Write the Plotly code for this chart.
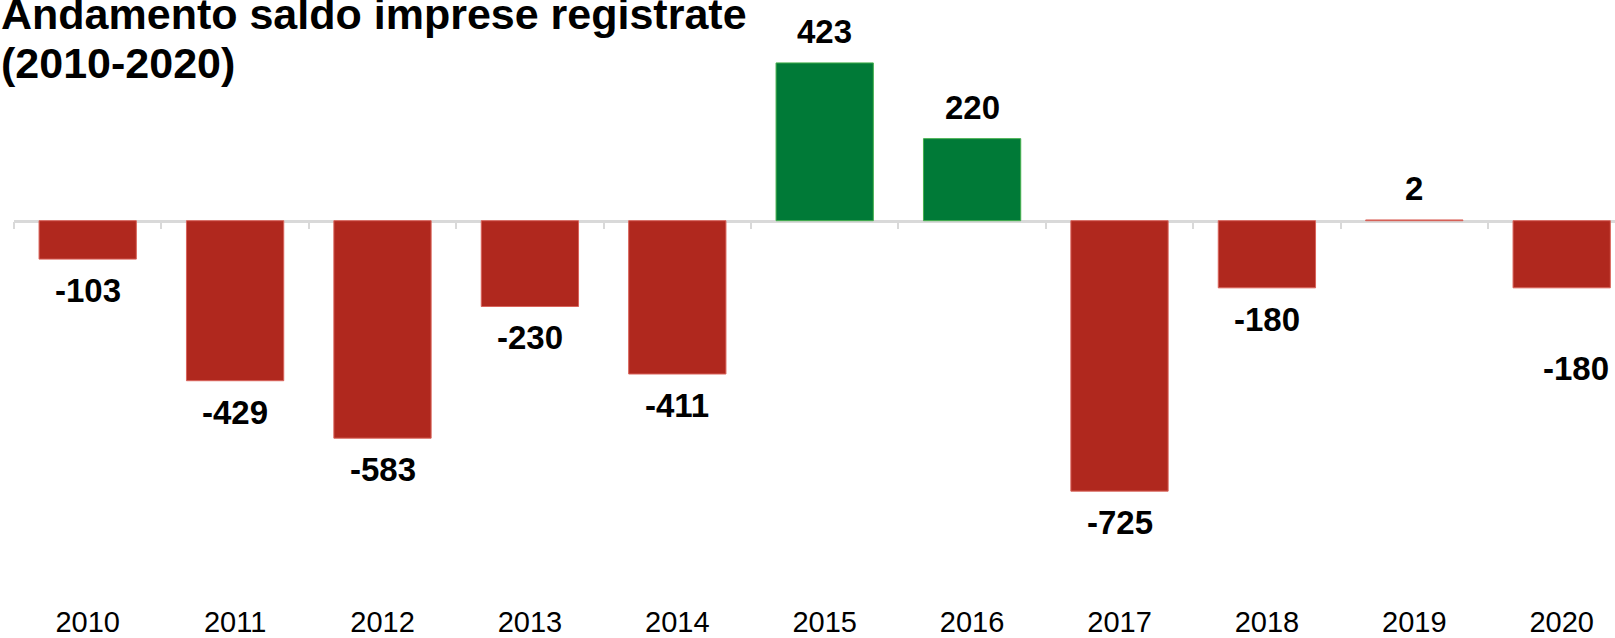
import plotly.graph_objects as go

# ---- data ----
years = ["2010", "2011", "2012", "2013", "2014", "2015", "2016", "2017", "2018", "2019", "2020"]
saldo = [-103, -429, -583, -230, -411, 423, 220, -725, -180, 2, -180]
title_line1 = "Andamento saldo imprese registrate"
title_line2 = "(2010-2020)"

# ---- style ----
RED = "#B0281E"
RED_EDGE = "#D9635A"
GREEN = "#007A37"
GREEN_EDGE = "#45B04E"
AXIS_GREY = "#D9D9D9"
FONT = "Liberation Sans, Arial, sans-serif"
green_years = {"2015", "2016"}
fill_colors = [GREEN if y in green_years else RED for y in years]
edge_colors = [GREEN_EDGE if y in green_years else RED_EDGE for y in years]
# manual nudge of a label as in the source (dx, dy pixels)
label_nudge = {"2020": (14, -49)}

W, H = 1615, 638
ML, MR, MT, MB = 14, 0, 0, 36
plot_h = H - MT - MB
zero_px = 220.7          # distance of the zero line from the plot top
px_per_unit = 0.373
cat_px = 147.4

y_top = zero_px / px_per_unit
y_bot = -(plot_h - zero_px) / px_per_unit
x_rng = [-0.5, -0.5 + (W - ML - MR) / cat_px]
zero_pos = (plot_h - zero_px) / plot_h

fig = go.Figure()
fig.add_trace(go.Bar(
    x=years, y=saldo,
    marker=dict(color=fill_colors, line=dict(color=edge_colors, width=1)),
    hoverinfo="skip", showlegend=False,
))
# invisible helper trace so the zero-line axis knows the categories
fig.add_trace(go.Scatter(
    x=years, y=[0] * len(years), xaxis="x2", mode="markers",
    marker=dict(opacity=0), hoverinfo="skip", showlegend=False,
))

annotations = []
for i, (yr, v) in enumerate(zip(years, saldo)):
    dx, dy = label_nudge.get(yr, (0, 0))
    annotations.append(dict(
        x=i, y=v, xref="x", yref="y", text=f"<b>{v}</b>", showarrow=False,
        yanchor="bottom" if v >= 0 else "top",
        yshift=(11 if v >= 0 else -11) + dy, xshift=dx,
        font=dict(family=FONT, size=33, color="black"),
    ))

annotations.append(dict(
    x=0, y=1, xref="paper", yref="paper", xanchor="left", yanchor="top",
    xshift=-15, yshift=12, text=f"<b>{title_line1}</b>", showarrow=False,
    font=dict(family=FONT, size=43, color="black"),
))
annotations.append(dict(
    x=0, y=1, xref="paper", yref="paper", xanchor="left", yanchor="top",
    xshift=-15, yshift=-37, text=f"<b>{title_line2}</b>", showarrow=False,
    font=dict(family=FONT, size=43, color="black"),
))

fig.update_layout(
    width=W, height=H,
    margin=dict(l=ML, r=MR, t=MT, b=MB, pad=0, autoexpand=False),
    paper_bgcolor="white", plot_bgcolor="white",
    bargap=0.34,
    font=dict(family=FONT, color="black"),
    annotations=annotations,
    xaxis=dict(
        type="category", range=x_rng, showline=False, ticks="",
        showgrid=False, zeroline=False, automargin=False,
        tickfont=dict(family=FONT, size=29, color="black"),
    ),
    xaxis2=dict(
        type="category", overlaying="x", matches="x", anchor="free",
        position=zero_pos, side="bottom", showline=True, linecolor=AXIS_GREY,
        linewidth=2.5, ticks="outside", tickson="boundaries", ticklen=7,
        tickwidth=2, tickcolor=AXIS_GREY, showticklabels=False,
        showgrid=False, zeroline=False, layer="below traces", automargin=False,
    ),
    yaxis=dict(range=[y_bot, y_top], visible=False, showgrid=False,
               zeroline=False, automargin=False),
)

fig.write_html(
    "out.html",
    config={"displayModeBar": False},
    post_script="document.body.style.margin='0';document.body.style.overflow='hidden';",
)
